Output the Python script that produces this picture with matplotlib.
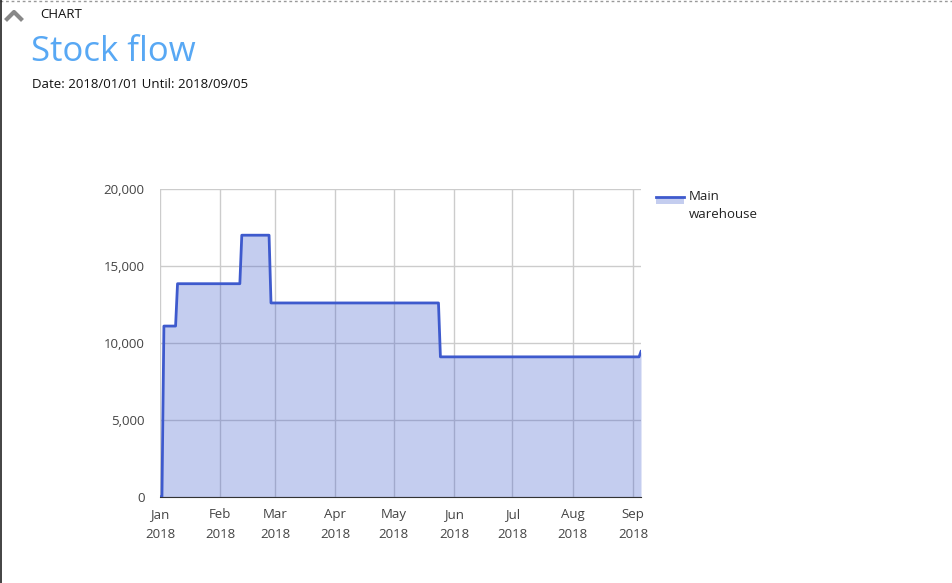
import numpy as np
import matplotlib.pyplot as plt
from matplotlib.lines import Line2D

plt.rcParams['font.family'] = ['Open Sans', 'DejaVu Sans']

# stock level of the main warehouse, points where it changes
dates = np.array(['2018-01-01', '2018-01-02', '2018-01-03', '2018-01-09',
                  '2018-01-10', '2018-02-11', '2018-02-12', '2018-02-26',
                  '2018-02-27', '2018-05-24', '2018-05-25', '2018-09-04',
                  '2018-09-05'], dtype='datetime64[D]')
stock = [0, 0, 11100, 11100, 13850, 13850, 17000, 17000, 12600,
         12600, 9100, 9100, 9450]

months = np.arange('2018-01', '2018-10', dtype='datetime64[M]').astype('datetime64[D]')
month_labels = ['Jan\n2018', 'Feb\n2018', 'Mar\n2018', 'Apr\n2018', 'May\n2018',
                'Jun\n2018', 'Jul\n2018', 'Aug\n2018', 'Sep\n2018']
y_ticks = [0, 5000, 10000, 15000, 20000]

col = '#3e5acd'

fig = plt.figure(figsize=(9.53, 5.83), dpi=100)
ax = fig.add_axes([160/953, 86/583, 481/953, 308/583])

ax.fill_between(dates, stock, 0, color=col, alpha=0.3, lw=0, zorder=2)
ax.plot(dates, stock, color=col, lw=2, zorder=3)

ax.set_xlim(np.datetime64('2018-01-01'), np.datetime64('2018-09-05'))
ax.set_ylim(0, 20000)
ax.set_xticks(months)
ax.set_xticklabels(month_labels, linespacing=1.65)
ax.set_yticks(y_ticks)
ax.yaxis.set_major_formatter(plt.FuncFormatter(lambda v, p: f'{int(v):,}'))
ax.grid(True, color='#cccccc', lw=1, zorder=1)
ax.set_axisbelow(True)
for s in ['top', 'right', 'left']:
    ax.spines[s].set_visible(False)
ax.spines['bottom'].set_color('#333333')
ax.tick_params(length=0, labelsize=9.5, labelcolor='#444444')
ax.tick_params(axis='x', pad=8)
ax.tick_params(axis='y', pad=11)

# legend
leg_ax = fig.add_axes([0, 0, 1, 1], facecolor='none')
leg_ax.set_xlim(0, 953)
leg_ax.set_ylim(583, 0)
leg_ax.axis('off')
leg_ax.fill_between([656, 684], 197, 204, color=col, alpha=0.3, lw=0)
leg_ax.plot([656, 684], [197, 197], color=col, lw=2)
leg_ax.text(689, 196, 'Main', fontsize=9.5, color='#222222', va='center')
leg_ax.text(689, 214, 'warehouse', fontsize=9.5, color='#222222', va='center')

# page header
leg_ax.plot([7, 14, 21], [19, 12, 19], color='#888888', lw=3)
leg_ax.text(40, 14, 'CHART', fontsize=9.5, color='#111111', va='center')
leg_ax.text(31, 52, 'Stock flow', fontsize=25, color='#58a8f4', va='center')
leg_ax.text(32, 84, 'Date: 2018/01/01 Until: 2018/09/05', fontsize=9.5,
            color='#111111', va='center')
leg_ax.plot([0, 953], [0.5, 0.5], color='#999999', lw=1, ls=(0, (2, 2)))
leg_ax.plot([0.5, 0.5], [0, 583], color='#222222', lw=1.2)

fig.savefig('out.png', dpi=100)
